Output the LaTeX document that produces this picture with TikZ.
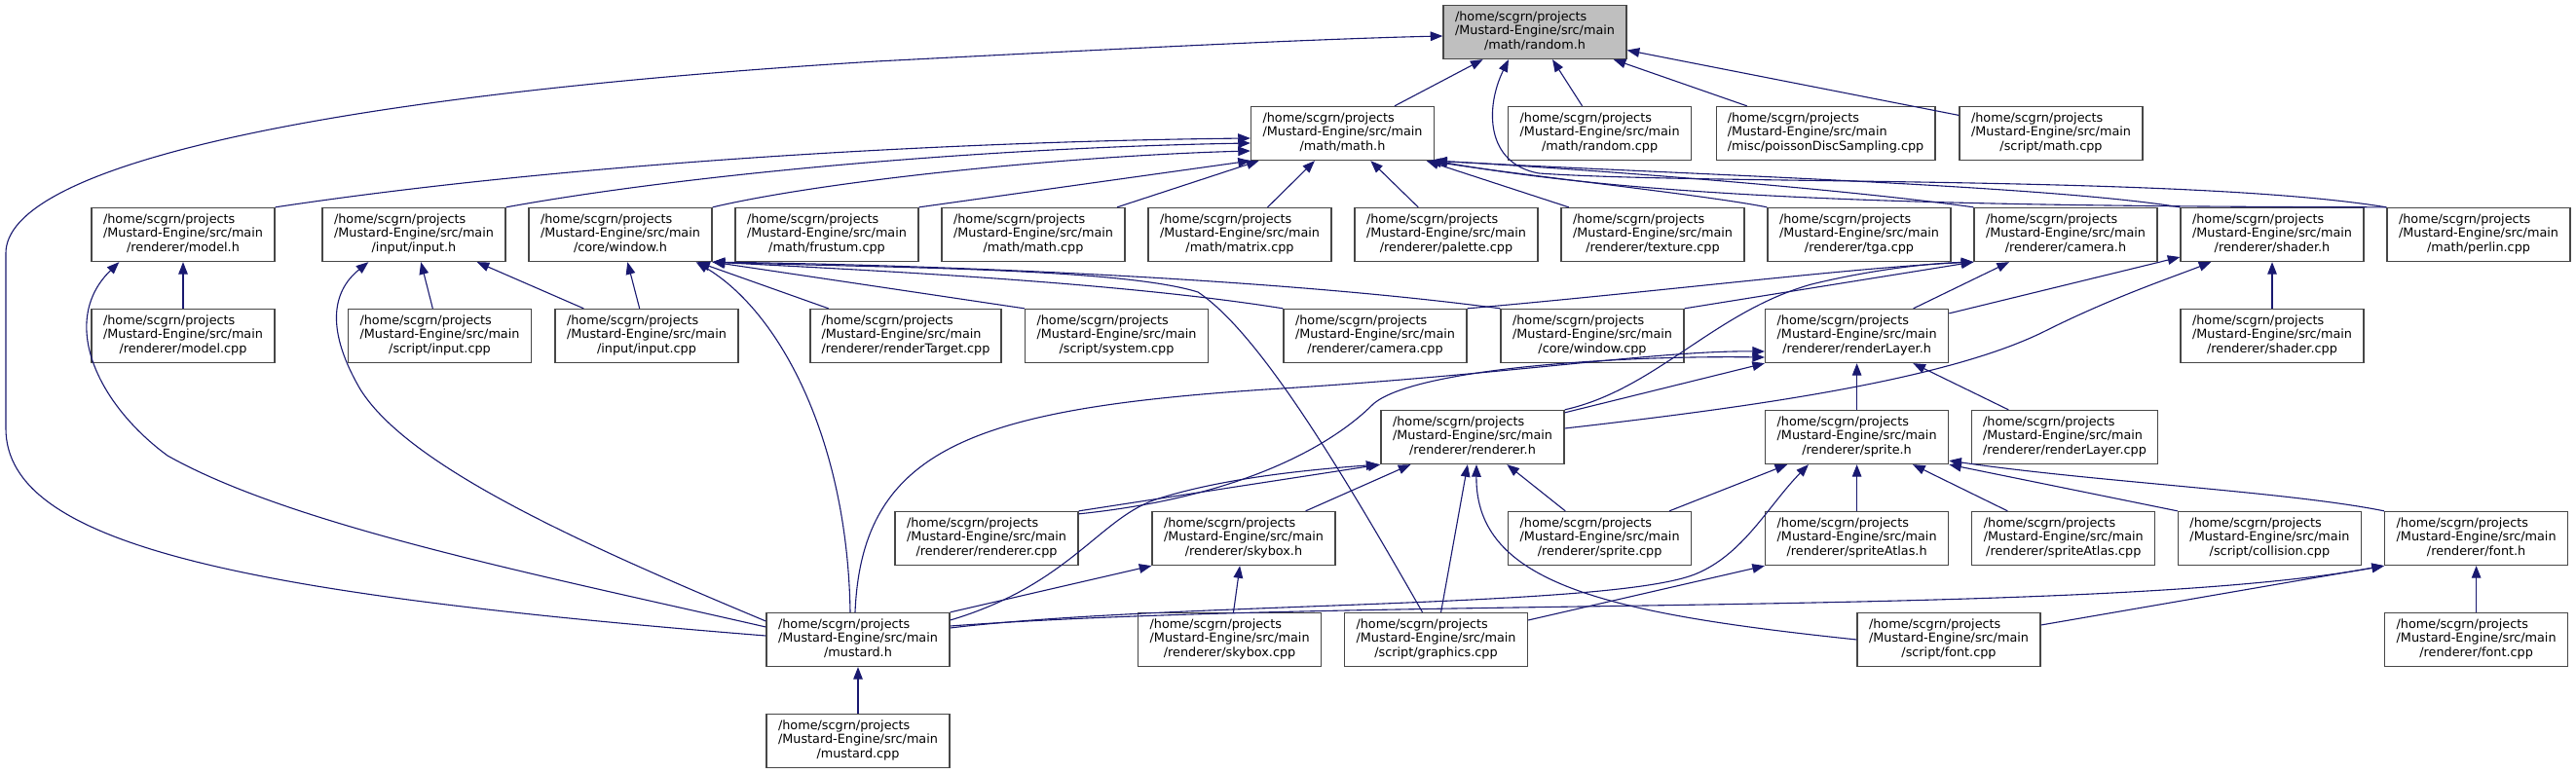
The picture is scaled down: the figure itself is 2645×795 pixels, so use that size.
\documentclass[tikz,border=0pt]{standalone}
\usepackage{fontspec}
\usetikzlibrary{arrows.meta,calc}
\newfontfamily\dvs{DejaVu Sans}
\definecolor{edgeblue}{HTML}{191970}
\definecolor{nodegray}{HTML}{BFBFBF}
\newcommand\lbl[1]{\begin{tabular}{@{}l@{}}/home/scgrn/projects\\/Mustard-Engine/src/main\\\multicolumn{1}{@{}c@{}}{#1}\end{tabular}}
\tikzset{
  box/.style={draw=black!72, line width=0.65pt, fill=white, minimum height=27.5pt, minimum width=94pt,
    inner xsep=5.8pt, inner ysep=1pt, font=\dvs\fontsize{6.4}{7.2}\selectfont},
  e/.style={draw=edgeblue, line width=0.55pt, -{Triangle[length=6.3pt,width=4.8pt]}},
}
\begin{document}
\begin{tikzpicture}[x=0.5pt,y=-0.5pt]
\useasboundingbox[fill=white] (0,0) rectangle (2645,795);
% row 0
\node[box,fill=nodegray] (random) at (1576,33) {\lbl{/math/random.h}};
% row 1
\node[box] (math) at (1378.5,137) {\lbl{/math/math.h}};
\node[box] (randomcpp) at (1642.6,137) {\lbl{/math/random.cpp}};
\node[box] (poisson) at (1874.5,137) {\lbl{/misc/poissonDiscSampling.cpp}};
\node[box] (scriptmath) at (2106,137) {\lbl{/script/math.cpp}};
% row 2
\node[box] (modelh) at (188,241) {\lbl{/renderer/model.h}};
\node[box] (inputh) at (425,241) {\lbl{/input/input.h}};
\node[box] (windowh) at (637,241) {\lbl{/core/window.h}};
\node[box] (frustum) at (849,241) {\lbl{/math/frustum.cpp}};
\node[box] (mathcpp) at (1061,241) {\lbl{/math/math.cpp}};
\node[box] (matrix) at (1273,241) {\lbl{/math/matrix.cpp}};
\node[box] (palette) at (1485,241) {\lbl{/renderer/palette.cpp}};
\node[box] (texture) at (1697,241) {\lbl{/renderer/texture.cpp}};
\node[box] (tga) at (1909,241) {\lbl{/renderer/tga.cpp}};
\node[box] (camerah) at (2121,241) {\lbl{/renderer/camera.h}};
\node[box] (shaderh) at (2333,241) {\lbl{/renderer/shader.h}};
\node[box] (perlin) at (2545,241) {\lbl{/math/perlin.cpp}};
% row 3
\node[box] (modelcpp) at (188,345) {\lbl{/renderer/model.cpp}};
\node[box] (scriptinput) at (451.5,345) {\lbl{/script/input.cpp}};
\node[box] (inputcpp) at (664,345) {\lbl{/input/input.cpp}};
\node[box] (rtarget) at (930,345) {\lbl{/renderer/renderTarget.cpp}};
\node[box] (system) at (1146.5,345) {\lbl{/script/system.cpp}};
\node[box] (cameracpp) at (1412,345) {\lbl{/renderer/camera.cpp}};
\node[box] (windowcpp) at (1635,345) {\lbl{/core/window.cpp}};
\node[box] (rlayerh) at (1906.6,345) {\lbl{/renderer/renderLayer.h}};
\node[box] (shadercpp) at (2333,345) {\lbl{/renderer/shader.cpp}};
% row 4
\node[box] (rendererh) at (1512,449) {\lbl{/renderer/renderer.h}};
\node[box] (spriteh) at (1906.6,449) {\lbl{/renderer/sprite.h}};
\node[box] (rlayercpp) at (2120,449) {\lbl{/renderer/renderLayer.cpp}};
% row 5
\node[box] (renderercpp) at (1013,553) {\lbl{/renderer/renderer.cpp}};
\node[box] (skyboxh) at (1277,553) {\lbl{/renderer/skybox.h}};
\node[box] (spritecpp) at (1642.6,553) {\lbl{/renderer/sprite.cpp}};
\node[box] (atlash) at (1906.6,553) {\lbl{/renderer/spriteAtlas.h}};
\node[box] (atlascpp) at (2118.8,553) {\lbl{/renderer/spriteAtlas.cpp}};
\node[box] (collision) at (2330.4,553) {\lbl{/script/collision.cpp}};
\node[box] (fonth) at (2542.6,553) {\lbl{/renderer/font.h}};
% row 6
\node[box] (mustardh) at (881,657) {\lbl{/mustard.h}};
\node[box] (skyboxcpp) at (1262.6,657) {\lbl{/renderer/skybox.cpp}};
\node[box] (graphics) at (1474.5,657) {\lbl{/script/graphics.cpp}};
\node[box] (scriptfont) at (2001,657) {\lbl{/script/font.cpp}};
\node[box] (fontcpp) at (2542.6,657) {\lbl{/renderer/font.cpp}};
% row 7
\node[box] (mustardcpp) at (881,761) {\lbl{/mustard.cpp}};

% ---- edges into random.h
\draw[e] (math) -- (random);
\draw[e] (randomcpp) -- (random);
\draw[e] (poisson) -- (random);
\draw[e] (scriptmath) -- (random);
\draw[e] ($(mustardh.west)+(0,-4)$) .. controls (250,610) and (6,560) .. (6,440) -- (6,260)
   .. controls (6,175) and (300,100) .. (900,63) .. controls (1150,50) and (1350,40) .. ($(random.west)+(0,4)$);
\draw[e] (perlin.north west) .. controls (2250,180) and (1750,190) .. (1580,178)
   .. controls (1525,168) and (1525,110) .. ($(random.south)+(-27,0)$);
% ---- edges into math.h
\draw[e] (modelh.north east) .. controls (600,165) and (1000,145) .. ($(math.west)+(0,5)$);
\draw[e] (inputh.north east) .. controls (700,180) and (1000,152) .. ($(math.west)+(0,10)$);
\draw[e] (windowh.north east) .. controls (850,185) and (1100,160) .. ($(math.west)+(0,18)$);
\draw[e] (frustum.north east) -- (math.south west);
\draw[e] (mathcpp) -- (math);
\draw[e] (matrix) -- (math);
\draw[e] (palette) -- (math);
\draw[e] (texture) -- (math);
\draw[e] (tga.north west) .. controls (1750,200) and (1560,180) .. ($(math.south east)+(-6,0)$);
\draw[e] (camerah.north west) .. controls (1900,195) and (1650,175) .. (math.south east);
\draw[e] (shaderh.north west) .. controls (2100,190) and (1700,178) .. (math.south east);
\draw[e] (perlin.north west) .. controls (2000,212) and (1700,205) .. (math.south east);
% ---- model.h
\draw[e] (modelcpp) -- (modelh);
\draw[e] ($(mustardh.west)+(0,-13)$) .. controls (550,590) and (300,540) .. (172,468)
   .. controls (100,415) and (60,330) .. ($(modelh.south west)+(29,0)$);
% ---- input.h
\draw[e] (scriptinput) -- (inputh);
\draw[e] (inputcpp) -- (inputh);
\draw[e] ($(mustardh.west)+(0,-19)$) .. controls (600,560) and (420,480) .. (370,400)
   .. controls (335,340) and (340,300) .. ($(inputh.south west)+(48,0)$);
% ---- window.h
\draw[e] (inputcpp) -- (windowh);
\draw[e] ($(mustardh.north)+(-8,0)$) .. controls (870,450) and (800,320) .. ($(windowh.south east)+(-17,0)$);
\draw[e] (rtarget) -- (windowh);
\draw[e] (system.north west) -- (windowh.south east);
\draw[e] (cameracpp.north west) .. controls (1150,290) and (900,278) .. (windowh.south east);
\draw[e] (windowcpp.north west) .. controls (1300,285) and (950,272) .. (windowh.south east);
\draw[e] ($(graphics.north)+(-14,0)$) .. controls (1370,470) and (1290,340) .. (1230,300)
   .. controls (1150,275) and (900,275) .. (windowh.south east);
% ---- skybox.h
\draw[e] (skyboxcpp) -- (skyboxh);
\draw[e] (mustardh.north east) -- (skyboxh.south west);
% ---- renderer.h
\draw[e] (renderercpp.north east) -- (rendererh.south west);
\draw[e] ($(mustardh.east)+(0,-20)$) .. controls (1100,600) and (1130,530) .. (1190,512)
   .. controls (1260,490) and (1350,482) .. ($(rendererh.south west)+(-2,0)$);
\draw[e] (skyboxh) -- (rendererh);
\draw[e] (spritecpp) -- (rendererh);
\draw[e] (graphics) -- (rendererh);
\draw[e] (scriptfont.west) .. controls (1650,630) and (1515,600) .. ($(rendererh.south)+(4,0)$);
% ---- renderLayer.h
\draw[e] ($(renderercpp.north east)+(0,3)$) .. controls (1280,510) and (1370,455) .. (1410,415)
   .. controls (1450,380) and (1650,365) .. ($(rlayerh.west)+(0,22)$);
\draw[e] ($(mustardh.north)+(-3,0)$) .. controls (885,460) and (1000,420) .. (1300,400)
   .. controls (1550,385) and (1700,360) .. ($(rlayerh.west)+(0,16)$);
\draw[e] ($(rendererh.north east)+(0,3)$) -- (rlayerh.south west);
\draw[e] (spriteh) -- (rlayerh);
\draw[e] (rlayercpp) -- (rlayerh);
% ---- camera.h
\draw[e] (rendererh.north east) .. controls (1700,400) and (1760,320) .. (1860,292)
   .. controls (1930,275) and (1990,270) .. (camerah.south west);
\draw[e] (rlayerh) -- (camerah);
\draw[e] (cameracpp.north east) .. controls (1700,300) and (1900,275) .. (camerah.south west);
\draw[e] (windowcpp.north east) -- (camerah.south west);
% ---- shader.h
\draw[e] ($(rendererh.east)+(0,-9)$) .. controls (1800,418) and (2000,390) .. (2100,340)
   .. controls (2170,305) and (2230,285) .. ($(shaderh.south west)+(32,0)$);
\draw[e] (rlayerh) -- (shaderh);
\draw[e] (shadercpp) -- (shaderh);
% ---- sprite.h
\draw[e] (spritecpp) -- (spriteh);
\draw[e] ($(mustardh.east)+(0,-12)$) .. controls (1200,618) and (1650,625) .. (1740,590)
   .. controls (1790,570) and (1815,520) .. ($(spriteh.south west)+(45,0)$);
\draw[e] (atlash) -- (spriteh);
\draw[e] (atlascpp) -- (spriteh);
\draw[e] (collision.north west) -- (spriteh.south east);
\draw[e] (fonth.north west) .. controls (2350,505) and (2150,495) .. ($(spriteh.south east)+(0,-4)$);
% ---- spriteAtlas.h
\draw[e] ($(graphics.east)+(0,-20)$) -- (atlash.south west);
% ---- font.h
\draw[e] ($(mustardh.east)+(0,-14)$) .. controls (1400,612) and (2150,635) .. (fonth.south west);
\draw[e] ($(scriptfont.east)+(0,-15)$) -- (fonth.south west);
\draw[e] (fontcpp) -- (fonth);
% ---- mustard.h
\draw[e] (mustardcpp) -- (mustardh);
\end{tikzpicture}
\end{document}
